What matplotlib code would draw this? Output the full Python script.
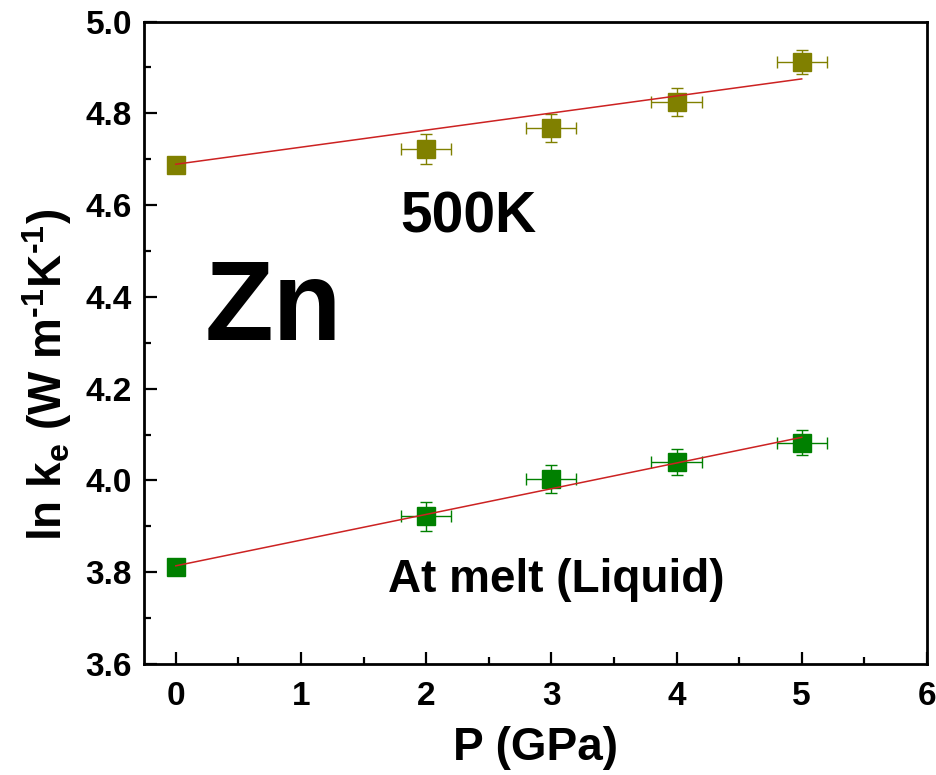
import numpy as np
import matplotlib
matplotlib.use("Agg")
import matplotlib.pyplot as plt
from matplotlib.ticker import MultipleLocator, FormatStrFormatter

plt.rcParams["font.family"] = ["Liberation Sans", "DejaVu Sans"]
plt.rcParams["font.weight"] = "bold"
plt.rcParams["mathtext.fontset"] = "custom"
plt.rcParams["mathtext.rm"] = "Liberation Sans:bold"
plt.rcParams["mathtext.default"] = "rm"

# data
p = [0, 2, 3, 4, 5]
lnk_500 = [4.687, 4.722, 4.768, 4.825, 4.912]
err_500 = [0.0, 0.033, 0.030, 0.030, 0.027]
lnk_liq = [3.812, 3.922, 4.003, 4.040, 4.082]
err_liq = [0.0, 0.032, 0.030, 0.029, 0.027]
p_err = [0.0, 0.2, 0.2, 0.2, 0.2]

# linear fits as drawn
fit_p = [0, 5]
fit_500 = [4.689, 4.875]
fit_liq = [3.814, 4.094]

fig = plt.figure(figsize=(9.37, 7.75), dpi=100)
ax = fig.add_axes([0.1542, 0.1432, 0.835, 0.829])

ax.errorbar(p, lnk_500, xerr=p_err, yerr=err_500, fmt="s", color="#808000",
            ms=13, elinewidth=1, capsize=4.5, capthick=1, zorder=2)
ax.errorbar(p, lnk_liq, xerr=p_err, yerr=err_liq, fmt="s", color="#008000",
            ms=13, elinewidth=1, capsize=4.5, capthick=1, zorder=2)

ax.plot(fit_p, fit_500, color="#cc2222", lw=1.1, zorder=3)
ax.plot(fit_p, fit_liq, color="#cc2222", lw=1.1, zorder=3)

ax.set_xlim(-0.25, 6)
ax.set_ylim(3.6, 5.0)
ax.xaxis.set_major_locator(MultipleLocator(1))
ax.xaxis.set_minor_locator(MultipleLocator(0.5))
ax.yaxis.set_major_locator(MultipleLocator(0.2))
ax.yaxis.set_minor_locator(MultipleLocator(0.1))
ax.yaxis.set_major_formatter(FormatStrFormatter("%.1f"))

ax.tick_params(which="major", direction="in", length=9, width=1.6, labelsize=24, pad=9)
ax.tick_params(axis="x", which="major", pad=12)
ax.tick_params(which="minor", direction="in", length=5, width=1.6)
for s in ax.spines.values():
    s.set_linewidth(2)

ax.set_xlabel("P (GPa)", fontsize=33, fontweight="bold", labelpad=10)
ax.set_ylabel("ln k$_{e}$ (W m$^{\u20101}$K$^{\u20101}$)", fontsize=33, fontweight="bold")
ax.yaxis.set_label_coords(-0.09, 0.45)

ax.text(2.336, 4.572, "500K", fontsize=41, fontweight="bold", ha="center", va="center")
ax.text(0.232, 4.306, "Zn", fontsize=81, fontweight="bold", ha="left", va="baseline")
ax.text(3.04, 3.7576, "At melt (Liquid)", fontsize=33, fontweight="bold", ha="center", va="baseline")

fig.savefig("out.png", dpi=100)
